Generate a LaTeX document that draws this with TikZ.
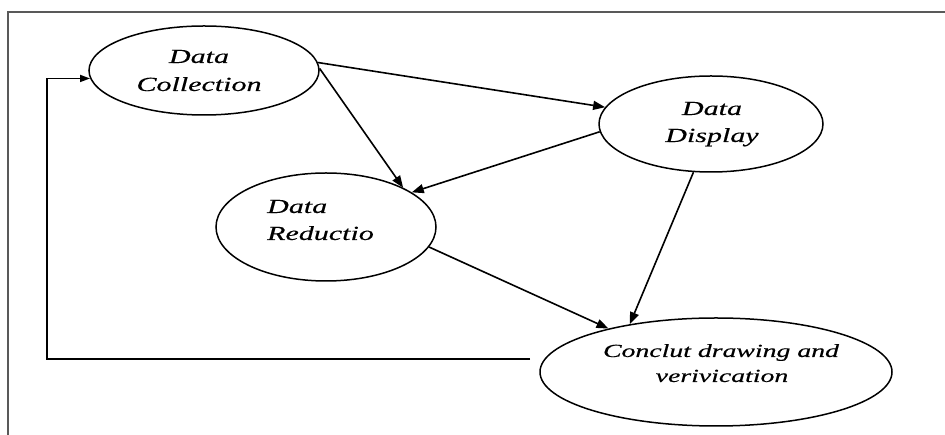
\documentclass[tikz,border=0pt]{standalone}
\usepackage{fontspec}
\newfontfamily\lbl{Liberation Serif}[FakeStretch=1.5,FakeBold=0.4]
\usetikzlibrary{shapes.geometric,arrows.meta}
\begin{document}
\begin{tikzpicture}[x=1pt,y=1pt,
  bubble/.style={draw=black,line width=1.5pt,ellipse,inner sep=0pt},
  arr/.style={draw=black,line width=1.6pt,-{Triangle[length=12pt,width=9pt]}},
  txt/.style={inner sep=0pt,font=\lbl\itshape\fontsize{20}{24}\selectfont,text=black},
  txts/.style={inner sep=0pt,font=\lbl\itshape\fontsize{18.5}{22}\selectfont,text=black},
  frame/.style={draw=black!65,line width=1.4pt}]
\useasboundingbox (0,0) rectangle (945,435);
\fill[white] (0,0) rectangle (945,435);
% frame
\coordinate (ftr) at (945,423);
\coordinate (ftl) at (8,423);
\coordinate (fbl) at (8,0);
\draw[frame] (ftr) -- (ftl) -- (fbl);
% ellipses
\node[bubble,minimum width=230pt,minimum height=89pt] (DC) at (204,364.5) {};
\node[bubble,minimum width=224pt,minimum height=96pt] (DD) at (711,311) {};
\node[bubble,minimum width=220pt,minimum height=108pt] (DR) at (326,208) {};
\node[bubble,minimum width=352pt,minimum height=108pt] (CO) at (716,63) {};
% labels
\node[txt,anchor=base] (dc1) at (199,372) {Data};
\node[txt,anchor=base] (dc2) at (199,344) {Collection};
\node[txt,anchor=base] (dd1) at (712,320) {Data};
\node[txt,anchor=base] (dd2) at (712,293) {Display};
\node[txt,anchor=base west] (dr1) at (267,222) {Data};
\node[txt,anchor=base west] (dr2) at (267,195) {Reductio};
\node[txts,anchor=base] (co1) at (721,78) {Conclut drawing and};
\node[txts,anchor=base] (co2) at (722,53) {verivication};
% connectors
\draw[arr] (DC.4.7) -- (DD.171.7);
\draw[arr] (DC.1.7) -- (DR.27.8);
\draw[arr] (DD.184) -- (DR.22.9);
\draw[arr] (DR.-11) -- (CO.158);
\draw[arr] (DD.250.5) -- (CO.151);
% feedback loop
\coordinate (fb) at (530,76);
\coordinate (fbx) at (47,76);
\draw[arr,-{Triangle[length=10pt,width=7pt]}] (fb) -- (fbx) |- (DC.184.8);
\end{tikzpicture}
\end{document}
